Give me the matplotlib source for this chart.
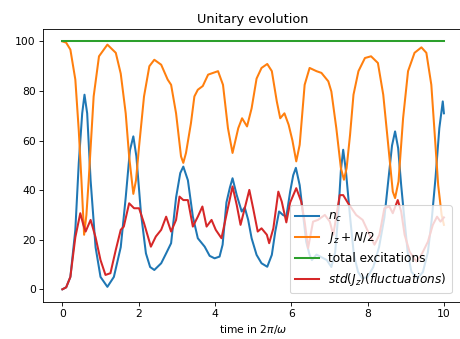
import matplotlib
matplotlib.use("Agg")
import matplotlib.pyplot as plt

# values
nc_t = [0, 0.1, 0.21, 0.34, 0.43, 0.52, 0.58, 0.65, 0.74, 0.87, 1.0, 1.18, 1.35,
        1.53, 1.66, 1.77, 1.86, 1.94, 2.06, 2.19, 2.30, 2.41, 2.59, 2.72, 2.85,
        2.98, 3.09, 3.17, 3.29, 3.42, 3.55, 3.73, 3.86, 3.99, 4.12, 4.20, 4.30,
        4.39, 4.46, 4.57, 4.70, 4.78, 4.87, 4.96, 5.09, 5.22, 5.37, 5.49, 5.58,
        5.68, 5.78, 5.87, 5.97, 6.05, 6.12, 6.22, 6.31, 6.39, 6.48, 6.54, 6.66,
        6.76, 6.93, 7.05, 7.15, 7.23, 7.30, 7.36, 7.43, 7.54, 7.64, 7.75, 7.86,
        8.0, 8.15, 8.30, 8.44, 8.55, 8.64, 8.72, 8.80, 8.88, 8.96, 9.05, 9.15,
        9.31, 9.45, 9.58, 9.68, 9.78, 9.88, 9.97, 10.0]
nc_v = [0, 0.8, 5, 24, 51, 71, 78.5, 71, 44, 17, 5, 1, 5,
        17, 37, 56, 61.7, 53.6, 30.7, 14.5, 9, 7.8, 10.5, 14.5, 18.6,
        37, 46.9, 49.5, 44, 29.3, 20.6, 17.2, 13.5, 12.5, 13.2, 18, 35,
        41, 44.8, 38, 31.4, 33, 28, 20.6, 13.9, 10.5, 9.1, 13.9, 23.3,
        31.4, 30, 29.3, 39.4, 46, 49, 42, 30, 19.2, 13.9, 11.8, 14,
        13.2, 11.8, 9, 15, 30, 48, 56.3, 48, 29.3, 14, 7, 4.4,
        5, 9, 17, 29, 45, 58, 63.7, 57, 42, 29, 15, 7,
        4.4, 7, 15, 28, 45, 65, 75.8, 71]

jz_t = [0, 0.1, 0.21, 0.34, 0.43, 0.5, 0.57, 0.63, 0.69, 0.82, 0.96, 1.18, 1.40,
        1.53, 1.66, 1.75, 1.86, 1.93, 2.01, 2.14, 2.28, 2.41, 2.59, 2.76, 2.85,
        2.98, 3.11, 3.17, 3.24, 3.37, 3.46, 3.55, 3.68, 3.82, 3.95, 4.08, 4.21,
        4.34, 4.46, 4.61, 4.71, 4.84, 4.96, 5.09, 5.22, 5.37, 5.49, 5.62, 5.71,
        5.82, 5.93, 6.03, 6.13, 6.22, 6.35, 6.48, 6.66, 6.79, 6.97, 7.05, 7.18,
        7.30, 7.38, 7.45, 7.54, 7.63, 7.76, 7.93, 8.09, 8.27, 8.41, 8.54, 8.66,
        8.72, 8.81, 8.93, 9.06, 9.23, 9.41, 9.54, 9.67, 9.76, 9.85, 9.94, 10.0]
jz_v = [100, 99.5, 96.7, 84.6, 64, 44, 22, 30, 44, 77.8, 94, 98.7, 95.4,
        87, 71, 53.6, 38.5, 44, 57.6, 77.8, 90, 92.6, 90.6, 84.6, 82.5,
        71, 53.6, 51, 55, 67, 77.8, 80.5, 82, 86.6, 87.3, 88, 82.5,
        65, 55, 65, 69, 65.7, 73, 85, 89.3, 90.9, 88, 75.8, 69,
        71, 66.4, 60, 51.6, 58.3, 82.5, 89.3, 88, 87.3, 83.9, 79.8, 65,
        48.9, 44.2, 48.9, 62.3, 78.5, 88, 93.3, 94, 91.3, 78.5, 58.3, 39.4,
        36.8, 43.5, 69, 88, 95.4, 97.6, 95.4, 82.5, 62.3, 42, 30, 26]

total_t = [0, 10]
total_v = [100, 100]

std_t = [0, 0.1, 0.21, 0.34, 0.47, 0.55, 0.61, 0.74, 0.87, 1.0, 1.13, 1.26, 1.40,
         1.53, 1.61, 1.75, 1.88, 2.01, 2.14, 2.32, 2.45, 2.59, 2.72, 2.85, 2.98,
         3.07, 3.17, 3.29, 3.42, 3.55, 3.67, 3.78, 3.91, 4.02, 4.17, 4.30, 4.46,
         4.57, 4.67, 4.78, 4.90, 5.0, 5.12, 5.22, 5.36, 5.42, 5.53, 5.66, 5.75,
         5.87, 5.97, 6.13, 6.26, 6.35, 6.44, 6.57, 6.70, 6.88, 7.01, 7.10, 7.27,
         7.36, 7.49, 7.58, 7.70, 7.87, 8.05, 8.18, 8.31, 8.44, 8.57, 8.66, 8.79,
         8.88, 8.97, 9.10, 9.28, 9.41, 9.58, 9.71, 9.82, 9.91, 10.0]
std_v = [0, 0.8, 5, 21, 30.7, 26, 23.3, 28, 21, 11.8, 5.8, 6.5, 15.9,
         24, 25.3, 34.7, 32.7, 32.7, 26.7, 17.2, 21.3, 24, 29.3, 23.3, 28,
         37.4, 36, 36, 25.3, 29.3, 33.4, 25.3, 28, 24, 20.6, 30, 41.5,
         34, 26, 32.7, 40.1, 32.7, 23.3, 24.6, 22, 18.6, 24.6, 39.4, 35.4,
         27, 35, 40.8, 35.4, 27.3, 16.6, 27.3, 28, 30, 27.3, 22, 38,
         38, 34.7, 32.7, 30, 28, 22, 18, 22, 32.7, 33.4, 30.7, 36,
         31.4, 22, 15.2, 11.2, 13.9, 19.2, 26, 29.3, 27.3, 29]

fig = plt.figure(figsize=(460 / 77, 339 / 77), dpi=77)
ax = fig.add_axes([0.0941, 0.110, 0.9124, 0.8044])

ax.plot(nc_t, nc_v, lw=1.9, label='$n_c$')
ax.plot(jz_t, jz_v, lw=1.9, label='$J_z + N/2$')
ax.plot(total_t, total_v, lw=1.9, label='total excitations')
ax.plot(std_t, std_v, lw=1.9, label='$std(J_z)(fluctuations)$')

ax.set_xlim(-0.5, 10.5)
ax.set_ylim(-5, 105)
ax.set_xticks([0, 2, 4, 6, 8, 10])
ax.set_yticks([0, 20, 40, 60, 80, 100])
ax.set_title('Unitary evolution')
ax.set_xlabel(r'time in $2\pi/\omega$')
ax.legend(loc='lower right', bbox_to_anchor=(451.7 / 460, 1 - 293.3 / 339),
          bbox_transform=fig.transFigure, borderaxespad=0, fontsize=11.3)

fig.savefig('out.png', dpi=77)
